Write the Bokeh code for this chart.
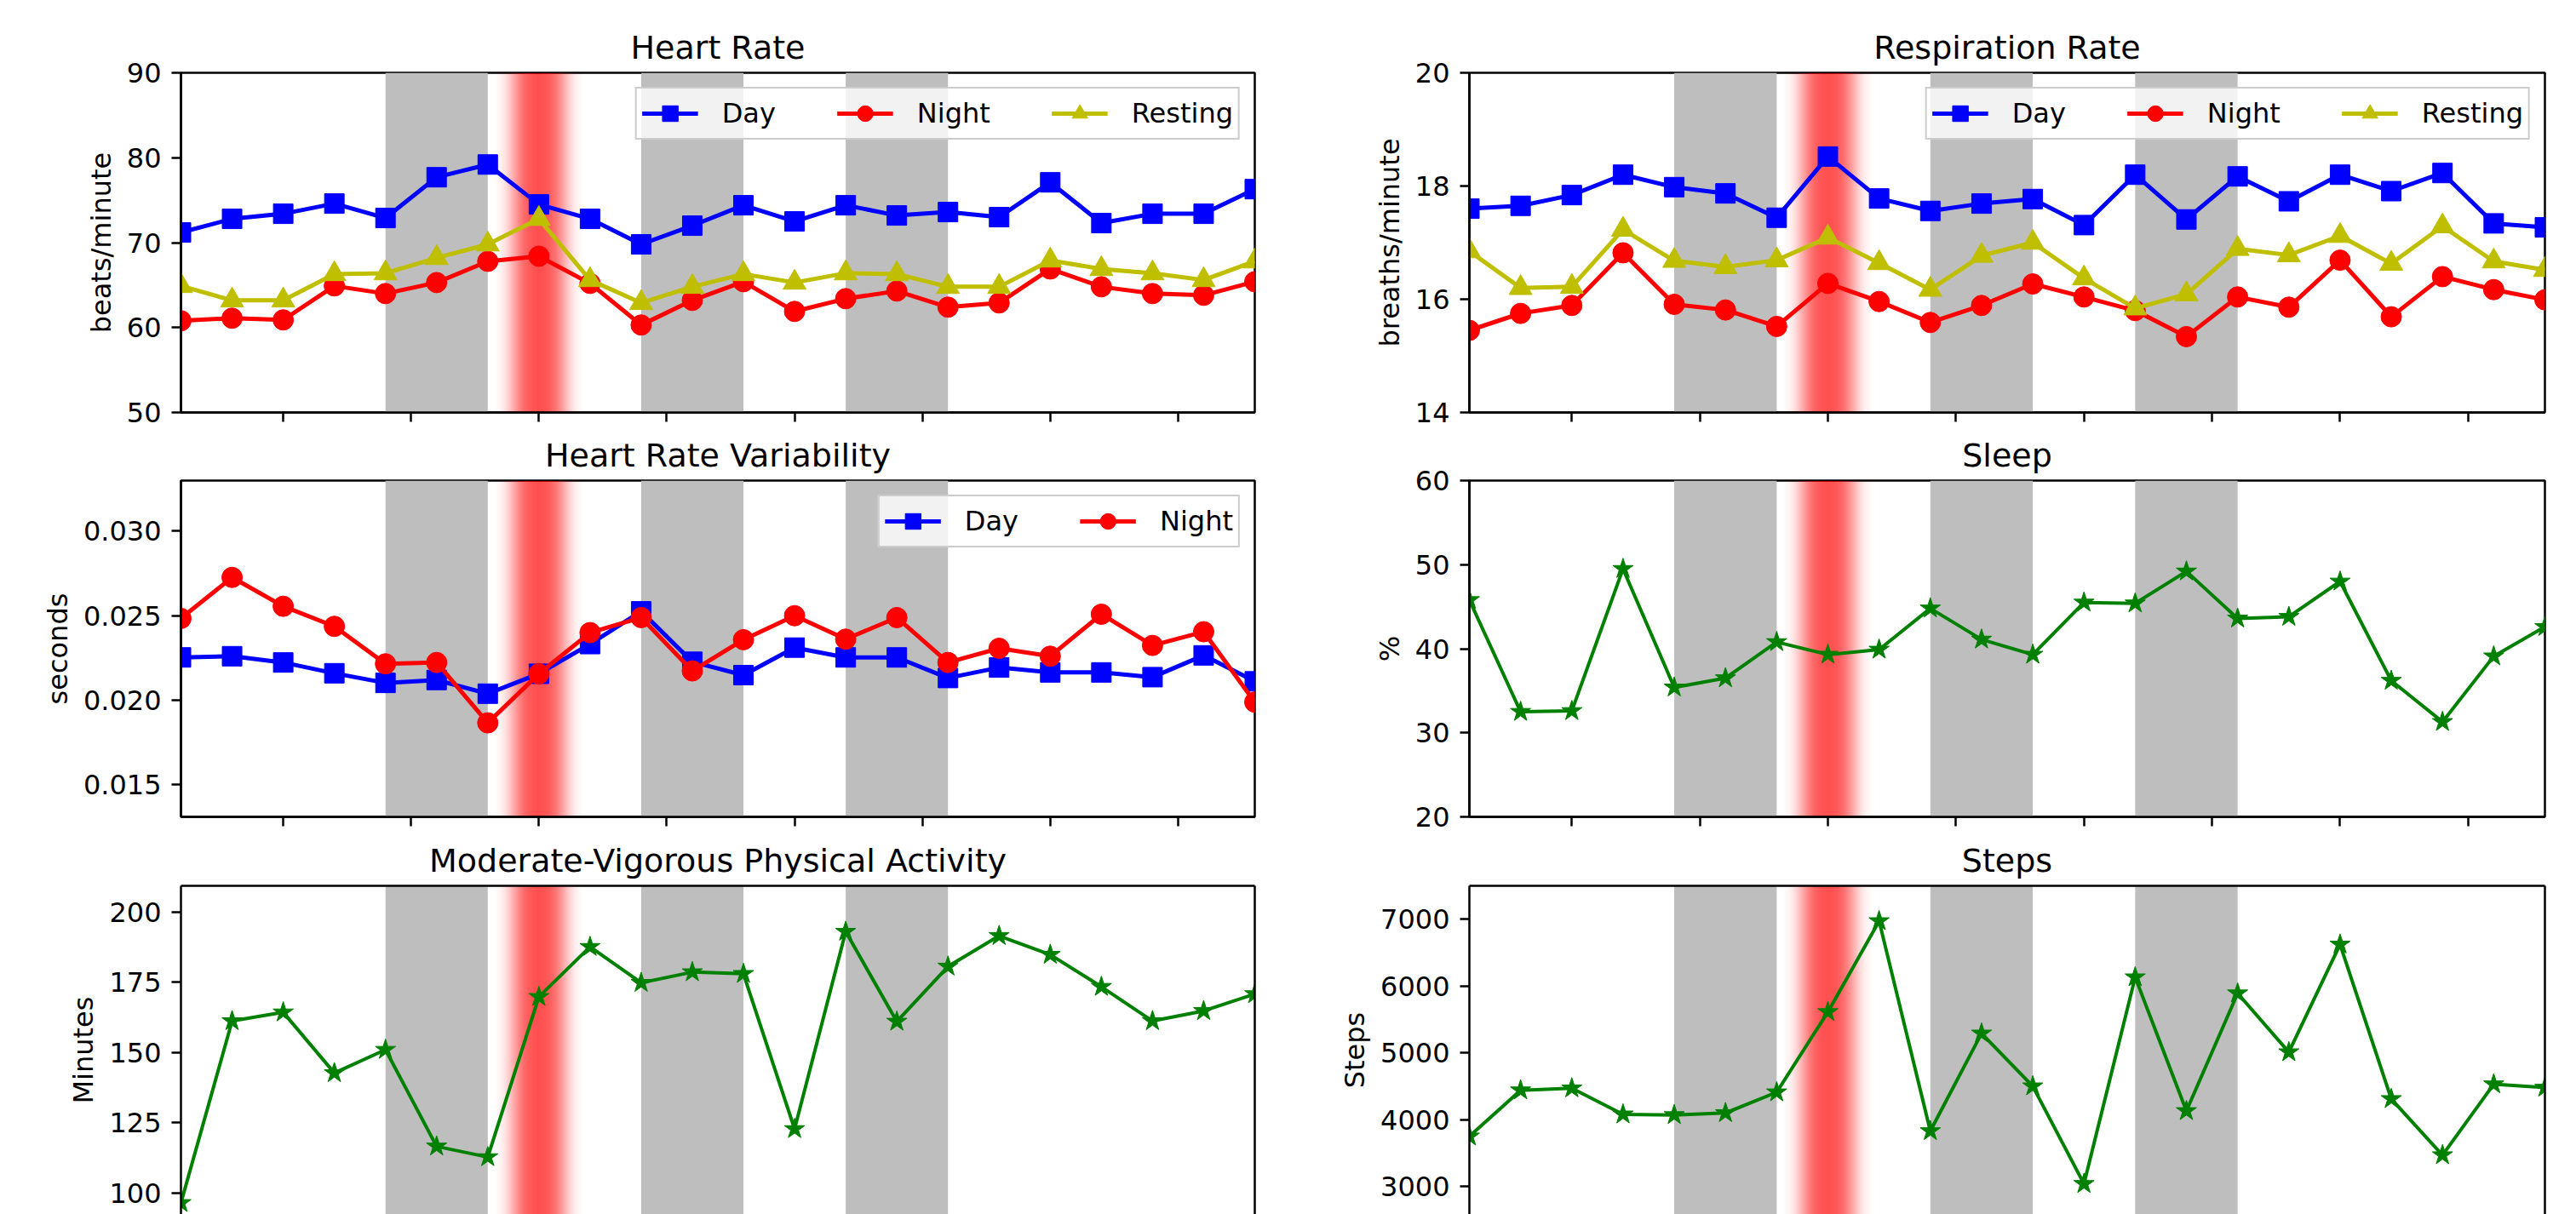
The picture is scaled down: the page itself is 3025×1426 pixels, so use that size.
import numpy as np
from bokeh.plotting import figure
from bokeh.models import (BoxAnnotation, FixedTicker, Legend, LegendItem,
                          LinearAxis, Range1d)
from bokeh.layouts import column, row
from bokeh.embed import file_html
from bokeh.resources import INLINE

# ---------------- data ----------------
days = list(range(22))
x_ticks = [2, 4.5, 7, 9.5, 12, 14.5, 17, 19.5]
shaded_spans = [(4, 6), (9, 11), (13, 15)]
event_day = 7

hr_day = [71.2, 72.8, 73.4, 74.6, 72.9, 77.7, 79.2, 74.5, 72.8, 69.8, 72.0,
          74.4, 72.5, 74.4, 73.2, 73.6, 73.0, 77.1, 72.3, 73.4, 73.4, 76.3]
hr_night = [60.8, 61.1, 60.9, 64.9, 64.0, 65.3, 67.8, 68.4, 65.2, 60.3, 63.2,
            65.4, 61.9, 63.4, 64.3, 62.4, 62.9, 66.9, 64.8, 64.0, 63.8, 65.4]
hr_rest = [64.9, 63.2, 63.2, 66.3, 66.4, 68.2, 69.8, 72.8, 65.6, 62.9, 64.8,
           66.3, 65.3, 66.4, 66.3, 64.8, 64.8, 67.9, 66.9, 66.4, 65.6, 67.8]
hr_ticks = [50, 60, 70, 80, 90]
hr_tick_labels = ["50", "60", "70", "80", "90"]

rr_day = [17.6, 17.65, 17.84, 18.2, 17.98, 17.87, 17.44, 18.52, 17.78, 17.56, 17.69,
          17.77, 17.31, 18.2, 17.41, 18.17, 17.73, 18.2, 17.91, 18.23, 17.34, 17.27]
rr_night = [15.45, 15.75, 15.89, 16.82, 15.91, 15.81, 15.52, 16.28, 15.96, 15.59, 15.89,
            16.27, 16.04, 15.8, 15.34, 16.04, 15.86, 16.69, 15.69, 16.4, 16.17, 15.99]
rr_rest = [16.85, 16.2, 16.22, 17.23, 16.68, 16.57, 16.69, 17.09, 16.64, 16.17, 16.77,
           17.0, 16.37, 15.84, 16.09, 16.89, 16.78, 17.12, 16.63, 17.29, 16.67, 16.52]
rr_ticks = [14, 16, 18, 20]
rr_tick_labels = ["14", "16", "18", "20"]

hrv_day = [0.02252, 0.02259, 0.02222, 0.02158, 0.02101, 0.02118, 0.02037, 0.02155,
           0.02331, 0.02525, 0.02226, 0.02147, 0.02310, 0.02252, 0.02252, 0.02130,
           0.02192, 0.02163, 0.02163, 0.02135, 0.02264, 0.02110]
hrv_night = [0.02483, 0.02726, 0.02555, 0.02436, 0.02214, 0.02222, 0.01864, 0.02155,
             0.02399, 0.02488, 0.02172, 0.02357, 0.02499, 0.02360, 0.02488, 0.02222,
             0.02306, 0.02259, 0.02508, 0.02323, 0.02404, 0.01987]
hrv_ticks = [0.015, 0.020, 0.025, 0.030]
hrv_tick_labels = ["0.015", "0.020", "0.025", "0.030"]

sleep_pct = [45.8, 32.5, 32.6, 49.5, 35.4, 36.5, 40.8, 39.3, 39.9, 44.8, 41.1,
             39.3, 45.5, 45.4, 49.2, 43.6, 43.8, 48.0, 36.2, 31.3, 39.1, 42.6]
sleep_ticks = [20, 30, 40, 50, 60]
sleep_tick_labels = ["20", "30", "40", "50", "60"]

mvpa_min = [96.5, 161.2, 164.3, 142.7, 151.0, 116.6, 112.8, 169.8, 187.6, 174.8, 178.6,
            178.0, 122.8, 193.0, 161.0, 180.6, 191.5, 184.8, 173.4, 161.2, 164.8, 170.8]
mvpa_ticks = [100, 125, 150, 175, 200]
mvpa_tick_labels = ["100", "125", "150", "175", "200"]

steps = [3750, 4440, 4470, 4080, 4070, 4100, 4410, 5610, 6970, 3830, 5290,
         4500, 3040, 6130, 4130, 5890, 5010, 6620, 4310, 3470, 4530, 4480]
steps_ticks = [3000, 4000, 5000, 6000, 7000]
steps_tick_labels = ["3000", "4000", "5000", "6000", "7000"]

# ---------------- styling ----------------
FONT = "DejaVu Sans"
BLUE, RED, YEL, GREEN = "#0000ff", "#ff0000", "#bfbf00", "#008000"


def make_fig(title, ylabel, yr, ticks, labels, left_col, row_idx):
    W = 1500 if left_col else 1517
    mbl = 212 if left_col else 225
    mbr = 27 if left_col else 29
    if row_idx == 0:
        H, mbt, mbb = 503, 85, 19
    elif row_idx == 1:
        H, mbt, mbb = 475, 60, 19
    else:
        H, mbt, mbb = 448, 62, 0
    has_x = row_idx < 2
    p = figure(width=W, height=H, output_backend="svg", toolbar_location=None,
               x_range=Range1d(0, 21), y_range=Range1d(*yr),
               min_border_left=mbl, min_border_right=mbr,
               min_border_top=mbt, min_border_bottom=mbb,
               x_axis_location="below" if has_x else None,
               title=title)
    p.title.text_font = FONT
    p.title.text_font_size = "38px"
    p.title.text_font_style = "normal"
    p.title.text_color = "black"
    p.title.align = "center"
    p.title.standoff = 15
    p.xgrid.visible = False
    p.ygrid.visible = False
    p.background_fill_color = "white"
    p.border_fill_color = "white"

    ya = p.yaxis[0]
    ya.ticker = FixedTicker(ticks=ticks)
    ya.major_label_overrides = {t: l for t, l in zip(ticks, labels)}
    ya.axis_label = ylabel
    ya.axis_label_text_font = FONT
    ya.axis_label_text_font_size = "32px"
    ya.axis_label_text_font_style = "normal"
    ya.axis_label_text_color = "black"
    ya.axis_label_standoff = 8
    ya.major_label_text_font = FONT
    ya.major_label_text_font_size = "32px"
    ya.major_label_text_color = "black"
    ya.major_label_standoff = 12
    ya.major_tick_out = 11
    ya.major_tick_in = 0
    ya.minor_tick_out = 0
    ya.minor_tick_in = 0
    ya.major_tick_line_width = 2.5
    ya.axis_line_width = 2.5

    if has_x:
        xa = p.xaxis[0]
        xa.ticker = FixedTicker(ticks=x_ticks)
        xa.major_label_overrides = {t: "" for t in x_ticks}
        xa.major_label_text_font_size = "1px"
        xa.major_label_standoff = 0
        xa.major_tick_out = 11
        xa.major_tick_in = 0
        xa.minor_tick_out = 0
        xa.minor_tick_in = 0
        xa.major_tick_line_width = 2.5
        xa.axis_line_width = 2.5
        p.outline_line_color = "black"
        p.outline_line_width = 2.5
        p.outline_line_alpha = 1.0
    else:
        p.outline_line_color = None
        for loc in ("above", "right"):
            ax = LinearAxis(ticker=FixedTicker(ticks=[]), major_tick_out=0,
                            major_tick_in=0, minor_tick_out=0, minor_tick_in=0,
                            major_label_text_font_size="1px", major_label_standoff=0,
                            axis_line_width=2.5, axis_line_color="black")
            p.add_layout(ax, loc)

    # shaded day spans
    for a, b in shaded_spans:
        p.add_layout(BoxAnnotation(left=a, right=b, fill_color="#bebebe",
                                   fill_alpha=1.0, line_color=None, level="underlay"))
    # red soft band around the event day (nested boxes build the fade)
    halfw = np.linspace(0.85, 0.03, 42)
    target = 0.64 * np.exp(-(halfw / 0.56) ** 3)
    prev = 0.0
    for w, t in zip(halfw, target):
        a = 1 - (1 - t) / (1 - prev)
        prev = t
        if a <= 0:
            continue
        p.add_layout(BoxAnnotation(left=event_day - w, right=event_day + w,
                                   fill_color="#ff0000", fill_alpha=float(a),
                                   line_color=None, level="underlay"))
    return p


def add_series(p, y, color, marker, size, lw):
    rl = p.line(days, y, line_color=color, line_width=lw)
    rs = p.scatter(days, y, marker=marker, size=size, fill_color=color, line_color=color)
    return [rl, rs]


def add_legend(p, items):
    lg = Legend(items=[LegendItem(label=l, renderers=r) for l, r in items],
                orientation="horizontal", location="top_right",
                glyph_width=66, glyph_height=46, label_standoff=28, spacing=72,
                padding=6, margin=17,
                label_text_font=FONT, label_text_font_size="32px",
                label_text_color="black",
                background_fill_color="white", background_fill_alpha=0.8,
                border_line_color="#cccccc", border_line_width=2, border_line_alpha=1.0)
    p.add_layout(lg)


# Heart rate
p1 = make_fig("Heart Rate", "beats/minute", (50, 90), hr_ticks, hr_tick_labels, True, 0)
r_d = add_series(p1, hr_day, BLUE, "square", 23, 5)
r_n = add_series(p1, hr_night, RED, "circle", 24, 5)
r_r = add_series(p1, hr_rest, YEL, "triangle", 27, 5)
add_legend(p1, [("Day", r_d), ("Night", r_n), ("Resting", r_r)])

# Respiration rate
p2 = make_fig("Respiration Rate", "breaths/minute", (14, 20), rr_ticks, rr_tick_labels, False, 0)
r_d = add_series(p2, rr_day, BLUE, "square", 23, 5)
r_n = add_series(p2, rr_night, RED, "circle", 24, 5)
r_r = add_series(p2, rr_rest, YEL, "triangle", 27, 5)
add_legend(p2, [("Day", r_d), ("Night", r_n), ("Resting", r_r)])

# HRV
p3 = make_fig("Heart Rate Variability", "seconds", (0.01307, 0.0330), hrv_ticks,
              hrv_tick_labels, True, 1)
r_d = add_series(p3, hrv_day, BLUE, "square", 23, 5)
r_n = add_series(p3, hrv_night, RED, "circle", 24, 5)
add_legend(p3, [("Day", r_d), ("Night", r_n)])

# Sleep
p4 = make_fig("Sleep", "%", (20, 60), sleep_ticks, sleep_tick_labels, False, 1)
add_series(p4, sleep_pct, GREEN, "star", 25, 4)

# MVPA
p5 = make_fig("Moderate-Vigorous Physical Activity", "Minutes", (92.4, 209.3),
              mvpa_ticks, mvpa_tick_labels, True, 2)
add_series(p5, mvpa_min, GREEN, "star", 25, 4)

# Steps
p6 = make_fig("Steps", "Steps", (2583, 7497), steps_ticks, steps_tick_labels, False, 2)
add_series(p6, steps, GREEN, "star", 25, 4)

layout = column(row(p1, p2), row(p3, p4), row(p5, p6))
open("out.html", "w").write(file_html(layout, INLINE))
